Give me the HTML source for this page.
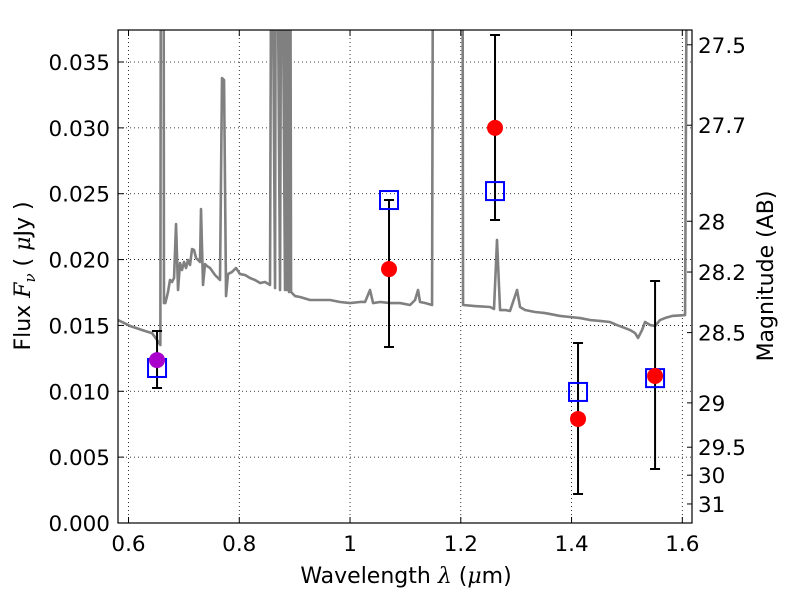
<!DOCTYPE html>
<html><head><meta charset="utf-8"><style>
body{margin:0;background:#fff;}
svg{display:block;font-family:"DejaVu Sans","Liberation Sans",sans-serif;}
</style></head><body>
<svg id="chart" width="800" height="600" viewBox="0 0 800 600">
<defs><clipPath id="plotclip"><rect x="118" y="30" width="574" height="493"/></clipPath></defs>
<rect x="0" y="0" width="800" height="600" fill="#fff"/>
<g id="grid"></g>
<g id="spec" clip-path="url(#plotclip)"></g>
<g id="marks"></g>
<g id="axes"></g>
<text x="406" y="583" font-size="22" text-anchor="middle">Wavelength  <tspan font-style="italic" font-family="'DejaVu Serif',serif">λ</tspan> (<tspan font-style="italic" font-family="'DejaVu Serif',serif">μ</tspan>m)</text>
<text transform="translate(30,276) rotate(-90)" font-size="22" text-anchor="middle">Flux  <tspan font-style="italic" font-family="'DejaVu Serif',serif">F</tspan><tspan font-style="italic" font-size="15" dy="5" font-family="'DejaVu Serif',serif">ν</tspan><tspan dy="-5">  ( </tspan><tspan font-style="italic" font-family="'DejaVu Serif',serif">μ</tspan>Jy )</text>
<text transform="translate(773,276) rotate(-90)" font-size="22" text-anchor="middle">Magnitude (AB)</text>
</svg>
<script>
const xTicks=[0.6,0.8,1.0,1.2,1.4,1.6];
const xTickLabels=["0.6","0.8","1","1.2","1.4","1.6"];
const yTicks=[0,0.005,0.010,0.015,0.020,0.025,0.030,0.035];
const yTickLabels=["0.000","0.005","0.010","0.015","0.020","0.025","0.030","0.035"];
const magTicks=[27.5,27.7,28,28.2,28.5,29,29.5,30,31];
const magTickLabels=["27.5","27.7","28","28.2","28.5","29","29.5","30","31"];
const specWave=[0.5810,0.6027,0.6298,0.6424,0.6515,0.6575,0.6585,0.6633,0.6640,0.6665,0.6713,0.6749,0.6786,0.6822,0.6858,0.6894,0.6930,0.6966,0.7002,0.7038,0.7074,0.7111,0.7147,0.7183,0.7219,0.7255,0.7291,0.7309,0.7345,0.7381,0.7418,0.7472,0.7562,0.7652,0.7688,0.7725,0.7761,0.7797,0.7869,0.7941,0.8014,0.8104,0.8194,0.8284,0.8375,0.8465,0.8555,0.8580,0.8592,0.8646,0.8660,0.8682,0.8736,0.8760,0.8772,0.8826,0.8840,0.8862,0.8880,0.8899,0.8920,0.8935,0.9007,0.9097,0.9278,0.9458,0.9639,0.9820,1.0000,1.0181,1.0271,1.0361,1.0416,1.0542,1.0722,1.0903,1.1084,1.1174,1.1228,1.1264,1.1354,1.1481,1.1500,1.2030,1.2041,1.2257,1.2528,1.2600,1.2654,1.2709,1.2799,1.2889,1.3016,1.3070,1.3160,1.3341,1.3521,1.3792,1.3973,1.4153,1.4334,1.4514,1.4695,1.4821,1.4966,1.5056,1.5147,1.5201,1.5273,1.5327,1.5418,1.5508,1.5598,1.5688,1.5815,1.6050,1.6086];
const specFlux=[0.01541,0.01496,0.01458,0.01442,0.01389,0.01351,0.05,0.05,0.01670,0.01670,0.01754,0.01845,0.01830,0.01860,0.02270,0.01769,0.01974,0.01921,0.01982,0.01936,0.01997,0.01959,0.02080,0.02073,0.02012,0.01997,0.01982,0.02384,0.01807,0.01966,0.01951,0.01936,0.01883,0.01845,0.03378,0.03363,0.01723,0.01890,0.01906,0.01936,0.01890,0.01883,0.01860,0.01845,0.01822,0.01830,0.01807,0.05,0.05,0.01784,0.05,0.05,0.01769,0.05,0.05,0.01769,0.05,0.01769,0.05,0.01754,0.05,0.01754,0.01723,0.01716,0.01693,0.01693,0.01693,0.01678,0.01670,0.01678,0.01678,0.01769,0.01670,0.01678,0.01670,0.01670,0.01655,0.01693,0.01769,0.01678,0.01670,0.01655,0.05,0.05,0.01655,0.01647,0.01640,0.01625,0.02149,0.01617,0.01617,0.01610,0.01769,0.01640,0.01617,0.01602,0.01594,0.01572,0.01564,0.01556,0.01541,0.01534,0.01526,0.01503,0.01480,0.01465,0.01442,0.01405,0.01465,0.01526,0.01503,0.01496,0.01541,0.01556,0.01572,0.01579,0.05];
const photWave=[0.6515,1.0704,1.2618,1.4117,1.5508];
const photFlux=[0.01237,0.01928,0.0300,0.0079,0.01116];
const errLow=[0.01025,0.01336,0.0230,0.0022,0.0041];
const errHigh=[0.01458,0.02452,0.03705,0.01367,0.01837];
const modelFlux=[0.01177,0.02452,0.0252,0.00995,0.0110];
const pointColors=["#aa00cc","red","red","red","red"];

const L=118,R=692,T=30,B=523;
const xMin=0.581,xMax=1.6175,yMin=0,yMax=0.03743;
const sx=v=>L+(v-xMin)/(xMax-xMin)*(R-L);
const sy=v=>B-(v-yMin)/(yMax-yMin)*(B-T);
const magToFlux=m=>Math.pow(10,(23.9-m)/2.5);
const NS="http://www.w3.org/2000/svg";
function mk(tag,attrs,parent){const e=document.createElementNS(NS,tag);for(const k in attrs)e.setAttribute(k,attrs[k]);parent.appendChild(e);return e;}
const grid=document.getElementById('grid'),axes=document.getElementById('axes'),spec=document.getElementById('spec'),marks=document.getElementById('marks');

xTicks.forEach((t,i)=>{const x=sx(t);
 const g=mk('line',{x1:x,x2:x,y1:T,y2:B,stroke:'#000','stroke-width':0.8,'stroke-dasharray':'1,3'},grid);
 
 
 const tk=mk('path',{d:`M${x},${B}v-6M${x},${T}v6`,stroke:'#000','stroke-width':1},axes);
 
 
 const tx=mk('text',{x:x,y:B+28,'font-size':21.5,'text-anchor':'middle'},axes);tx.textContent=xTickLabels[i];
 
 
});
yTicks.forEach((t,i)=>{const y=sy(t);
 const g=mk('line',{x1:L,x2:R,y1:y,y2:y,stroke:'#000','stroke-width':0.8,'stroke-dasharray':'1,3'},grid);
 
 
 const tk=mk('path',{d:`M${L},${y}h6`,stroke:'#000','stroke-width':1},axes);
 
 
 const tx=mk('text',{x:L-8,y:y+8,'font-size':21.5,'text-anchor':'end'},axes);tx.textContent=yTickLabels[i];
 
 
});
magTicks.forEach((m,i)=>{const y=sy(magToFlux(m));
 const tk=mk('path',{d:`M${R},${y}h-5`,stroke:'#000','stroke-width':1},axes);
 
 
 const tx=mk('text',{x:R+6,y:y+8,'font-size':21.5},axes);tx.textContent=magTickLabels[i];
 
 
});
const fr=mk('rect',{x:L,y:T,width:R-L,height:B-T,fill:'none',stroke:'#000','stroke-width':1.2},axes);



const sp=mk('polyline',{points:specWave.map((w,i)=>sx(w)+','+sy(specFlux[i])).join(' '),fill:'none',stroke:'#808080','stroke-width':2.6,'stroke-linejoin':'round'},spec);



photWave.forEach((w,i)=>{const x=sx(w);
 const eb=mk('path',{d:`M${x},${sy(errLow[i])}V${sy(errHigh[i])}M${x-5},${sy(errLow[i])}h10M${x-5},${sy(errHigh[i])}h10`,stroke:'#000','stroke-width':2,fill:'none'},marks);
 
 
});
photWave.forEach((w,i)=>{const x=sx(w),y=sy(modelFlux[i]);
 const sq=mk('rect',{x:x-9,y:y-9,width:18,height:18,fill:'none',stroke:'#0000ff','stroke-width':2},marks);
 
 
});
photWave.forEach((w,i)=>{
 const c=mk('circle',{cx:sx(w),cy:sy(photFlux[i]),r:8,fill:pointColors[i]},marks);
 
 
});
</script>
</body></html>
